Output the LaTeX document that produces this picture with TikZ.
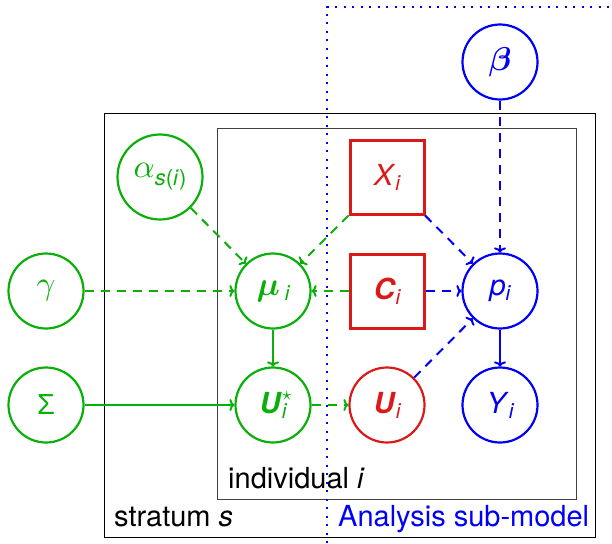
\documentclass[tikz,border=0pt]{standalone}
\usepackage{fontspec}
\setmainfont{TeX Gyre Heros}
\newfontfamily\libsans{Liberation Sans}
\usepackage{bm}
\DeclareFontFamily{OML}{cmm}{\skewchar\font'177}
\DeclareFontShape{OML}{cmm}{m}{it}{<->cmmi10}{}
\DeclareFontShape{OML}{cmm}{b}{it}{<->cmmib10}{}
\DeclareFontFamily{OMS}{cmsy}{\skewchar\font'60}
\DeclareFontShape{OMS}{cmsy}{m}{n}{<->cmsy10}{}
\DeclareFontShape{OMS}{cmsy}{b}{n}{<->cmbsy10}{}
\usetikzlibrary{arrows.meta}
\definecolor{mygreen}{RGB}{10,175,10}
\definecolor{myred}{RGB}{220,25,25}
\definecolor{myblue}{RGB}{0,0,245}
\newcommand\gk[1]{{\fontsize{33}{33}\selectfont$#1$}}
\newcommand\sbi[1]{\raisebox{-5pt}{\fontsize{21}{21}\selectfont\itshape #1}}
\begin{document}
\begin{tikzpicture}[x=1pt,y=-1pt,
  font=\fontsize{29}{34}\selectfont,
  var/.style={circle,draw,line width=2.2pt,minimum size=75pt,inner sep=0pt},
  obs/.style={rectangle,draw,line width=3pt,minimum size=74pt,inner sep=0pt},
  dsh/.style={dash pattern=on 9pt off 7pt},
  edge/.style={line width=2pt,-{To[length=5pt,width=12pt]}},
  plate/.style={draw,line width=1pt}]
\useasboundingbox (0,0) rectangle (612,543);
% plates
\draw[plate,black] (104,113) rectangle (595,537);
\draw[plate,black!75] (217,128) rectangle (576,499);
\node[anchor=base west,inner sep=0pt] (lind) at (228,488) {individual \textit{i}};
\node[anchor=base west,inner sep=0pt] (lstr) at (114,526) {stratum \textit{s}};
\node[anchor=base west,inner sep=0pt,text=myblue] (lana) at (338,526) {Analysis sub-model};
% dotted analysis boundary
\draw[myblue,line width=2pt,dash pattern=on 2pt off 6.5pt] (327,543) -- (327,7) -- (612,7);
% nodes
\node[var,myblue] (beta) at (500,62) {\gk{\bm{\beta}}};
\node[var,mygreen,minimum size=85pt] (alpha) at (160,177) {\gk{\alpha}\raisebox{-8pt}{\fontsize{22}{22}\selectfont\textit{s}(\textit{i})}};
\node[obs,myred] (X) at (387,177) {\textit{X}\sbi{i}};
\node[var,mygreen] (gamma) at (46,291) {\gk{\gamma}};
\node[var,mygreen] (mu) at (273,291) {\gk{\bm{\mu}}\,\sbi{i}};
\node[obs,myred] (C) at (387,291) {\textbf{\textit{C}}\sbi{i}};
\node[var,myblue] (p) at (500,291) {\textit{p}\sbi{i}};
\node[var,mygreen] (Sigma) at (46,405) {\libsans Σ};
\node[var,mygreen] (Ustar) at (273,405) {\textbf{\textit{U}}\rlap{\raisebox{13pt}{\fontsize{20}{20}\selectfont$\star$}}\sbi{i}};
\node[var,myred] (U) at (387,405) {\textbf{\textit{U}}\sbi{i}};
\node[var,myblue] (Y) at (500,405) {\textit{Y}\sbi{i}};
% edges
\draw[edge,dsh,mygreen] (alpha) -- (mu);
\draw[edge,dsh,mygreen] (X) -- (mu);
\draw[edge,dsh,mygreen] (gamma) -- (mu);
\draw[edge,dsh,mygreen] (C) -- (mu);
\draw[edge,mygreen] (mu) -- (Ustar);
\draw[edge,mygreen] (Sigma) -- (Ustar);
\draw[edge,dsh,mygreen] (Ustar) -- (U);
\draw[edge,dsh,myblue] (beta) -- (p);
\draw[edge,dsh,myblue] (X) -- (p);
\draw[edge,dsh,myblue] (C) -- (p);
\draw[edge,dsh,myblue] (U) -- (p);
\draw[edge,myblue] (p) -- (Y);
\end{tikzpicture}
\end{document}
